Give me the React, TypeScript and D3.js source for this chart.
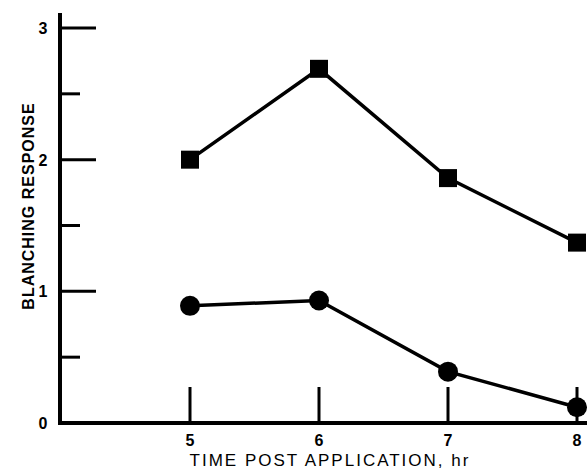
import React from 'react';
import * as d3 from 'd3';

const width = 587;
const height = 471;
const margin = {top: 13, right: 0, left: 60, bottom: 48};

const hours = [5, 6, 7, 8];
const squareSeries = [2.0, 2.69, 1.86, 1.37];
const circleSeries = [0.89, 0.93, 0.39, 0.12];
const yMajorTicks = [0, 1, 2, 3];
const yMinorTicks = [0.5, 1.5, 2.5];

const xScale = d3.scaleLinear().domain([5, 8]).range([190, 577]);
const yScale = d3.scaleLinear().domain([0, 3]).range([423, 28]);

const line = d3.line<number>()
  .x((d, i) => xScale(hours[i]))
  .y(d => yScale(d));

const font = 'Arial, "Liberation Sans", sans-serif';

export default function App() {
  const y0 = yScale(0);
  return (
    <svg width={width} height={height} style={{position: 'absolute', left: 0, top: 0}}>
      <rect width={width} height={height} fill='#fff' />
      {/* axes */}
      <line x1={margin.left} y1={margin.top} x2={margin.left} y2={y0 + 2} stroke='#000' strokeWidth={4} />
      <line x1={margin.left - 2} y1={y0} x2={width} y2={y0} stroke='#000' strokeWidth={4} />
      {yMajorTicks.filter(t => t > 0).map(t => (
        <line key={t} x1={margin.left} x2={96} y1={yScale(t)} y2={yScale(t)} stroke='#000' strokeWidth={3} />
      ))}
      {yMinorTicks.map(t => (
        <line key={t} x1={margin.left} x2={80} y1={yScale(t)} y2={yScale(t)} stroke='#000' strokeWidth={3} />
      ))}
      {hours.map(h => (
        <line key={h} x1={xScale(h)} x2={xScale(h)} y1={y0} y2={y0 - 36} stroke='#000' strokeWidth={3} />
      ))}
      {yMajorTicks.map(t => (
        <text key={t} x={43} y={yScale(t) + 6} textAnchor='middle' fontFamily={font} fontWeight='bold' fontSize={16}>{t}</text>
      ))}
      {hours.map(h => (
        <text key={h} x={xScale(h)} y={446} textAnchor='middle' fontFamily={font} fontWeight='bold' fontSize={16}>{h}</text>
      ))}
      <text x={330} y={466} textAnchor='middle' fontFamily={font} fontSize={17} letterSpacing={2}>TIME POST APPLICATION, hr</text>
      <text transform={`translate(34, 206) rotate(-90)`} textAnchor='middle' fontFamily={font} fontWeight='bold' fontSize={16} letterSpacing={1}>BLANCHING RESPONSE</text>
      {/* series */}
      <path d={line(squareSeries) || ''} fill='none' stroke='#000' strokeWidth={3.5} />
      <path d={line(circleSeries) || ''} fill='none' stroke='#000' strokeWidth={3.5} />
      {squareSeries.map((v, i) => (
        <rect key={i} x={xScale(hours[i]) - 9} y={yScale(v) - 9} width={18} height={18} fill='#000' />
      ))}
      {circleSeries.map((v, i) => (
        <circle key={i} cx={xScale(hours[i])} cy={yScale(v)} r={10} fill='#000' />
      ))}
    </svg>
  );
}
